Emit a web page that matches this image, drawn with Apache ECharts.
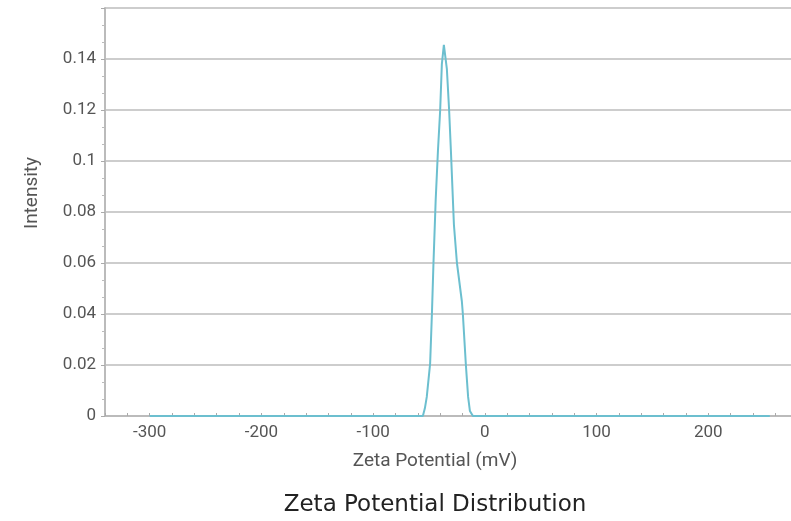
<!DOCTYPE html>
<html>
<head>
<meta charset="utf-8">
<script src="https://cdn.jsdelivr.net/npm/echarts@6/dist/echarts.min.js"></script>
<style>
  html, body { margin: 0; padding: 0; background: #fff; }
  #chart { width: 791px; height: 521px; }
</style>
</head>
<body>
<div id="chart"></div>
<script>
// zeta potential distribution (mV vs intensity)
var potential = [-300, -200, -100, -60, -55.5, -53.7, -52, -49, -47.4, -46, -44, -42, -40, -38.5, -36.7,
    -34, -32, -30.4, -27.7, -25, -20.6, -19.7, -17, -15, -13.4, -10.7, 0, 100, 200, 255];
var intensity = [0, 0, 0, 0, 0, 0.003, 0.0075, 0.0205, 0.04, 0.06, 0.085, 0.104, 0.12, 0.138, 0.1455,
    0.136, 0.12, 0.104, 0.075, 0.06, 0.045, 0.04, 0.02, 0.0075, 0.002, 0, 0, 0, 0, 0];

var seriesData = [];
for (var i = 0; i < potential.length; i++) {
    seriesData.push([potential[i], intensity[i]]);
}

var chart = echarts.init(document.getElementById('chart'));
chart.setOption({
    animation: false,
    backgroundColor: '#fff',
    grid: {
        left: 105,
        right: 0,
        top: 8,
        bottom: 105
    },
    xAxis: {
        type: 'value',
        min: -340,
        max: 274,
        interval: 20,
        name: 'Zeta Potential (mV)',
        nameLocation: 'middle',
        nameGap: 36,
        nameTextStyle: {
            color: '#555',
            fontSize: 19,
            fontFamily: 'Roboto',
            padding: [0, 26, 0, 0]
        },
        axisLine: { onZero: false, lineStyle: { color: '#bbb', width: 2 } },
        axisTick: { show: true, inside: true, length: 3, lineStyle: { color: '#aaa' } },
        splitLine: { show: false },
        axisLabel: {
            color: '#555',
            fontSize: 17,
            fontFamily: 'Roboto',
            margin: 8,
            showMaxLabel: false,
            formatter: function (v) {
                return v % 100 === 0 ? String(v) : '';
            }
        }
    },
    yAxis: {
        type: 'value',
        min: 0,
        max: 0.16,
        interval: 0.02,
        name: 'Intensity',
        nameLocation: 'middle',
        nameGap: 63,
        nameTextStyle: {
            color: '#555',
            fontSize: 19,
            fontFamily: 'Roboto',
            padding: [0, 0, 0, 38]
        },
        axisLine: { show: true, onZero: false, lineStyle: { color: '#bbb', width: 2 } },
        axisTick: { show: true, length: 4, lineStyle: { color: '#aaa' } },
        minorTick: { show: true, splitNumber: 3, length: 3, lineStyle: { color: '#bbb' } },
        splitLine: { show: true, lineStyle: { color: '#bdbdbd', width: 1.5 } },
        axisLabel: {
            color: '#555',
            fontSize: 17,
            fontFamily: 'Roboto',
            margin: 9,
            formatter: function (v) {
                return v >= 0.159 ? '' : String(+v.toFixed(2));
            }
        }
    },
    graphic: [{
        type: 'text',
        style: {
            x: 435,
            y: 505,
            text: 'Zeta Potential Distribution',
            align: 'center',
            verticalAlign: 'middle',
            fill: '#222',
            fontSize: 23,
            fontFamily: 'DejaVu Sans'
        }
    }],
    series: [{
        type: 'line',
        data: seriesData,
        symbol: 'none',
        lineStyle: { color: '#6cbfcf', width: 2 },
        z: 3
    }]
});
</script>
</body>
</html>
